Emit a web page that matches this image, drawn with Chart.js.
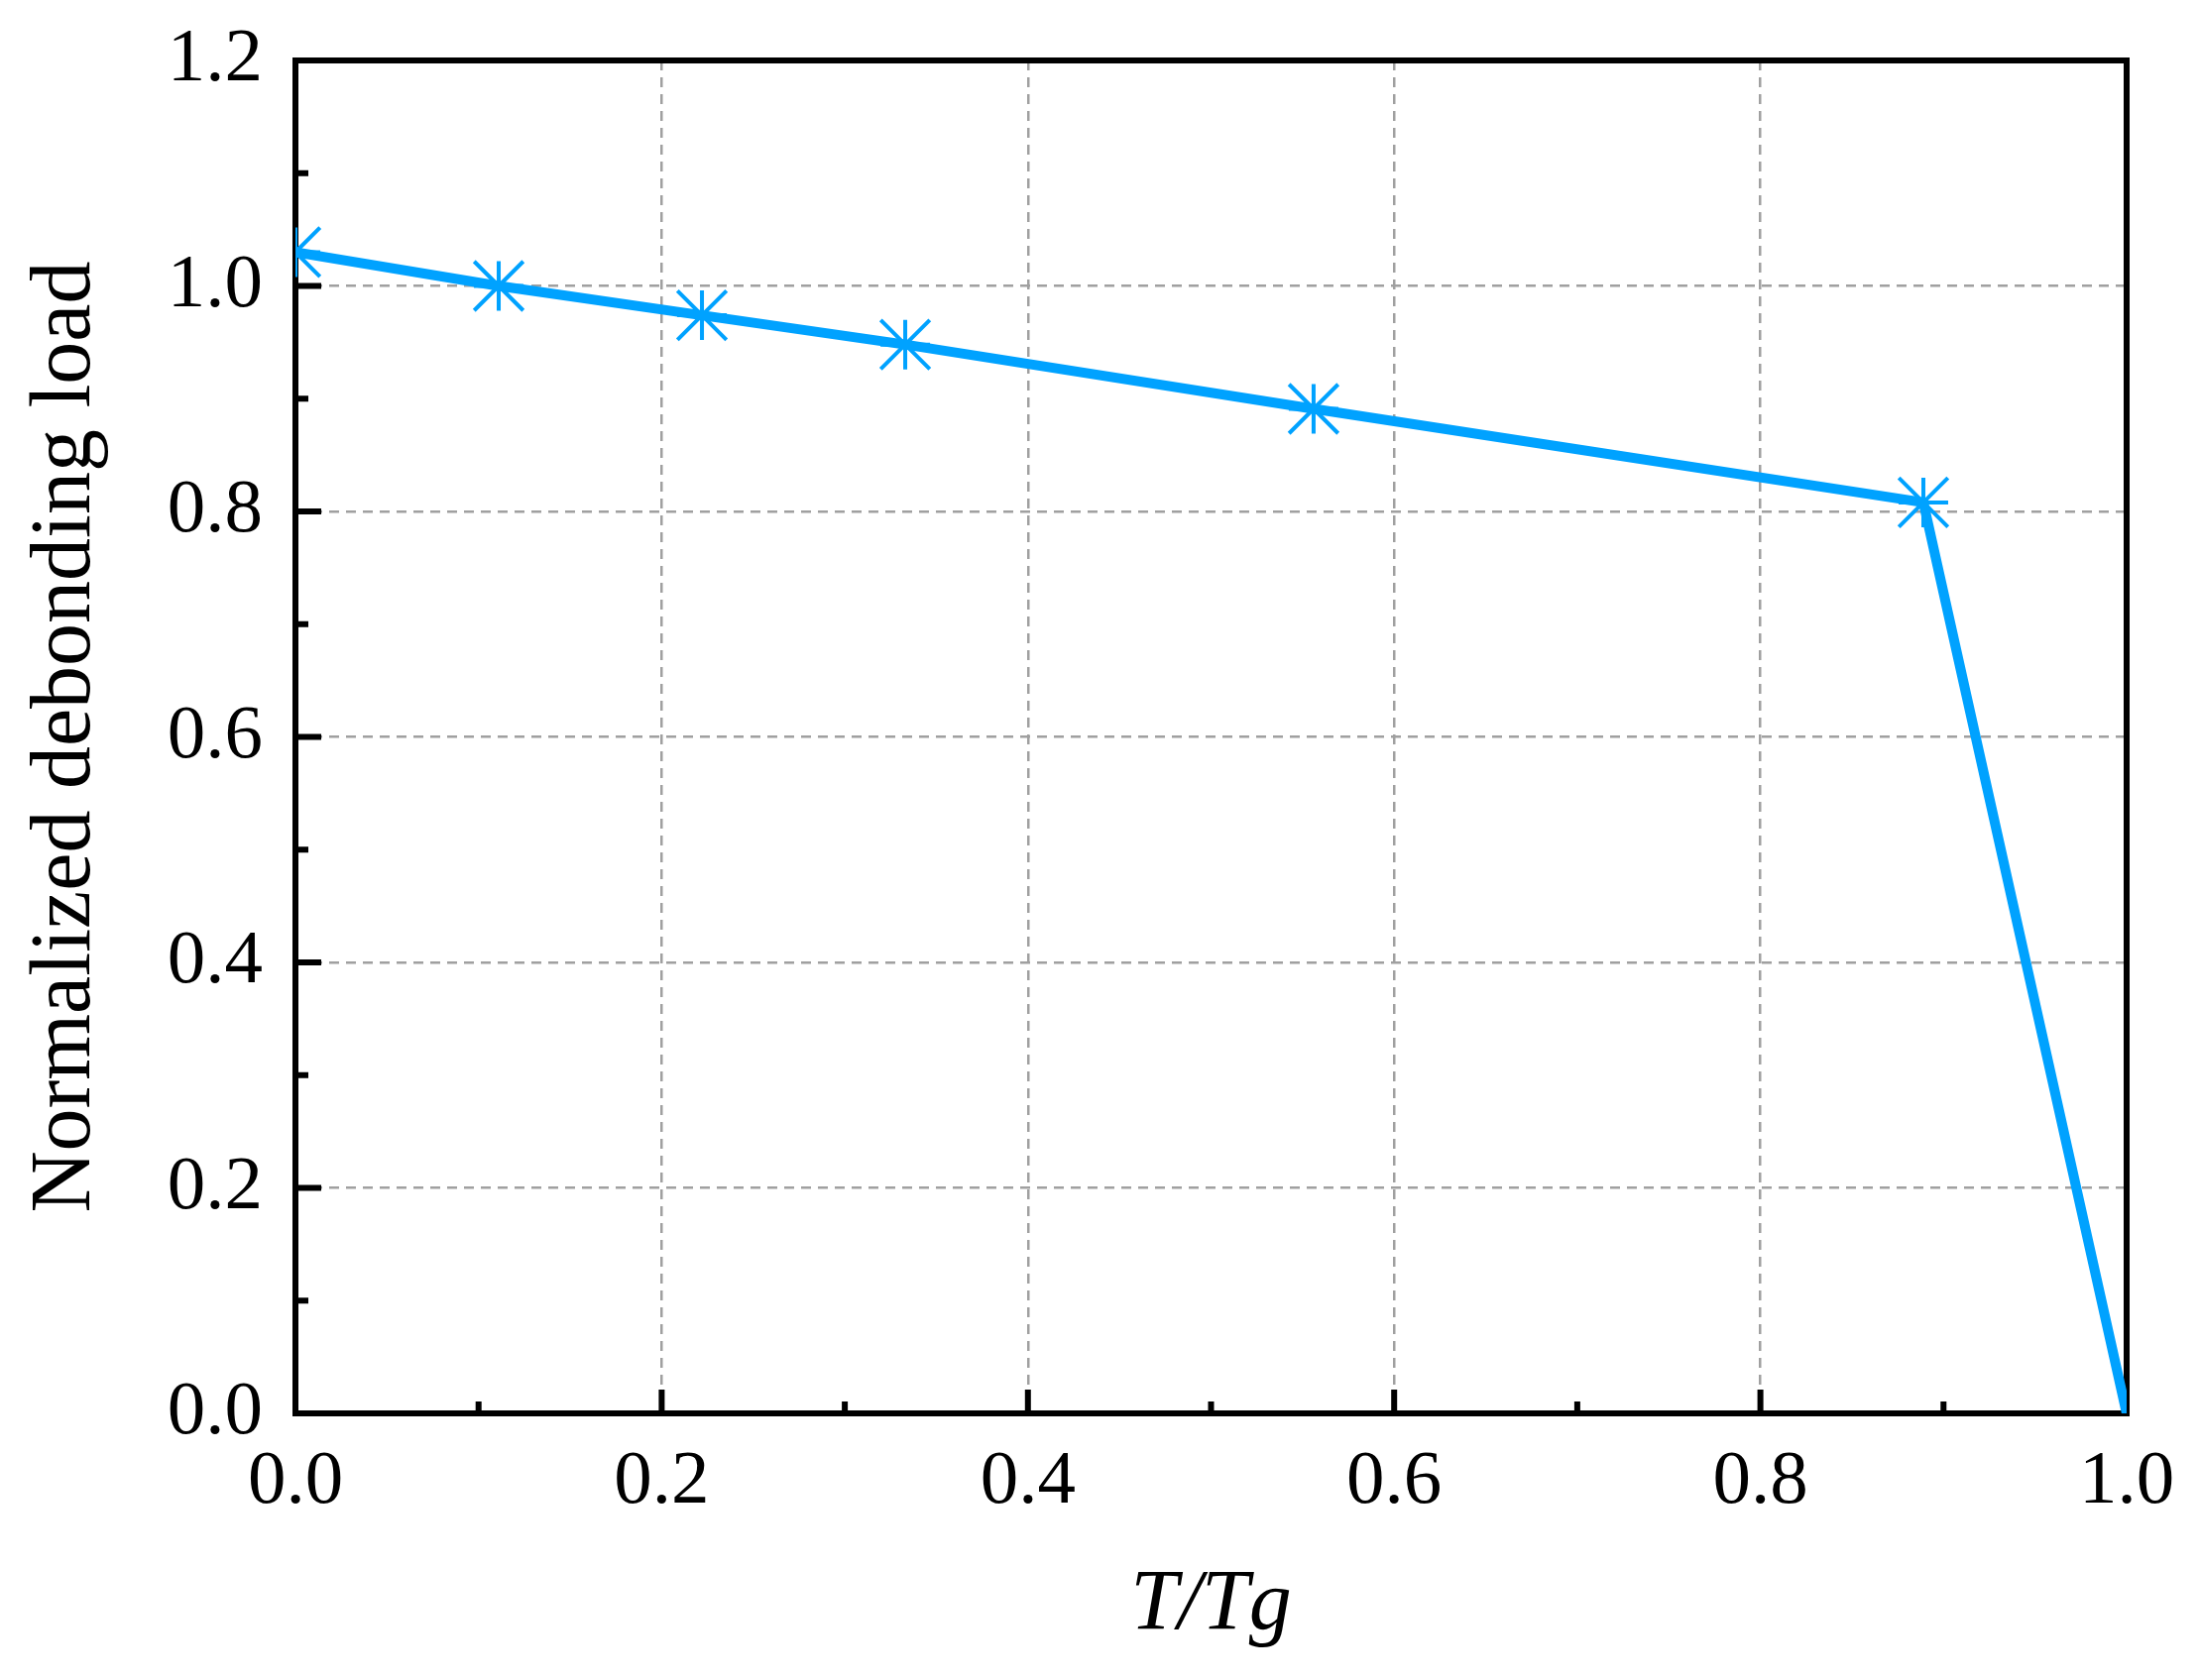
<!DOCTYPE html>
<html>
<head>
<meta charset="utf-8">
<script src="https://cdn.jsdelivr.net/npm/chart.js@4/dist/chart.umd.min.js"></script>
<style>
  html, body { margin: 0; padding: 0; background: #fff; }
  #wrap { width: 2219px; height: 1695px; }
</style>
</head>
<body>
<div id="wrap"><canvas id="loadChart" width="2219" height="1695"></canvas></div>
<script>
// values
const tRatio = [0, 0.111, 0.222, 0.333, 0.556, 0.889, 1.0];
const debondLoad = [1.03, 1.0, 0.974, 0.948, 0.891, 0.808, 0];
const markerShown = [1, 1, 1, 1, 1, 1, 0];
const xTicks = [0, 0.2, 0.4, 0.6, 0.8, 1.0];
const yTicks = [0, 0.2, 0.4, 0.6, 0.8, 1.0, 1.2];

const blue = "rgb(0,162,255)";
const serif = "'Liberation Serif', 'Times New Roman', Times, serif";
const points = tRatio.map((x, i) => ({ x: x, y: debondLoad[i] }));

// box around plot + inward ticks (major and minor)
const frameTicks = {
    id: "frameTicks",
    beforeDatasetsDraw(chart) {
        const ctx = chart.ctx;
        const a = chart.chartArea;
        const xs = chart.scales.x, ys = chart.scales.y;
        ctx.save();
        ctx.strokeStyle = "#000";
        ctx.lineWidth = 6;
        ctx.beginPath();
        for (let i = 0; i < xTicks.length; i++) {
            let px = xs.getPixelForValue(xTicks[i]);
            ctx.moveTo(px, a.bottom);
            ctx.lineTo(px, a.bottom - 24);
            if (i < xTicks.length - 1) {
                let mx = xs.getPixelForValue((xTicks[i] + xTicks[i + 1]) / 2);
                ctx.moveTo(mx, a.bottom);
                ctx.lineTo(mx, a.bottom - 12);
            }
        }
        for (let i = 0; i < yTicks.length; i++) {
            let py = ys.getPixelForValue(yTicks[i]);
            ctx.moveTo(a.left, py);
            ctx.lineTo(a.left + 26, py);
            if (i < yTicks.length - 1) {
                let my = ys.getPixelForValue((yTicks[i] + yTicks[i + 1]) / 2);
                ctx.moveTo(a.left, my);
                ctx.lineTo(a.left + 13, my);
            }
        }
        ctx.stroke();
        ctx.strokeRect(a.left, a.top, a.right - a.left, a.bottom - a.top);
        ctx.restore();
    }
};

new Chart(document.getElementById("loadChart"), {
    type: "scatter",
    data: {
        datasets: [
            {
                data: points,
                showLine: true,
                borderColor: blue,
                borderWidth: 10,
                pointRadius: 0,
                clip: 0
            },
            {
                data: points,
                showLine: false,
                pointStyle: "cross",
                pointRadius: markerShown.map(v => v * 25),
                borderColor: blue,
                borderWidth: 4,
                backgroundColor: blue,
                clip: 0
            },
            {
                data: points,
                showLine: false,
                pointStyle: "crossRot",
                pointRadius: markerShown.map(v => v * 35),
                borderColor: blue,
                borderWidth: 4,
                backgroundColor: blue,
                clip: 0
            }
        ]
    },
    options: {
        responsive: false,
        animation: false,
        layout: { padding: { left: 0, right: 74, top: 61, bottom: 0 } },
        plugins: {
            legend: { display: false },
            tooltip: { enabled: false }
        },
        scales: {
            x: {
                type: "linear",
                min: 0,
                max: 1,
                afterBuildTicks: s => { s.ticks = xTicks.map(v => ({ value: v })); },
                afterFit: s => { s.height = 269; s.paddingLeft = 0; s.paddingRight = 0; },
                grid: { color: "#a0a0a0", lineWidth: 2.5, drawTicks: false },
                border: { display: false, dash: [10, 7] },
                ticks: {
                    padding: 24,
                    color: "#000",
                    font: { family: serif, size: 77 },
                    callback: v => v.toFixed(1)
                },
                title: {
                    display: true,
                    text: "T/Tg",
                    color: "#000",
                    font: { family: serif, size: 86, style: "italic" },
                    padding: { top: 0, bottom: 23 }
                }
            },
            y: {
                type: "linear",
                min: 0,
                max: 1.2,
                afterBuildTicks: s => { s.ticks = yTicks.map(v => ({ value: v })); },
                afterFit: s => { s.width = 298; s.paddingTop = 0; s.paddingBottom = 0; },
                grid: { color: "#a0a0a0", lineWidth: 2.5, drawTicks: false },
                border: { display: false, dash: [10, 7] },
                ticks: {
                    padding: 33,
                    color: "#000",
                    font: { family: serif, size: 77 },
                    callback: v => v.toFixed(1)
                },
                title: {
                    display: true,
                    text: "Normalized debonding load",
                    color: "#000",
                    font: { family: serif, size: 86 },
                    padding: { top: 16, bottom: 0 }
                }
            }
        }
    },
    plugins: [frameTicks]
});
</script>
</body>
</html>
